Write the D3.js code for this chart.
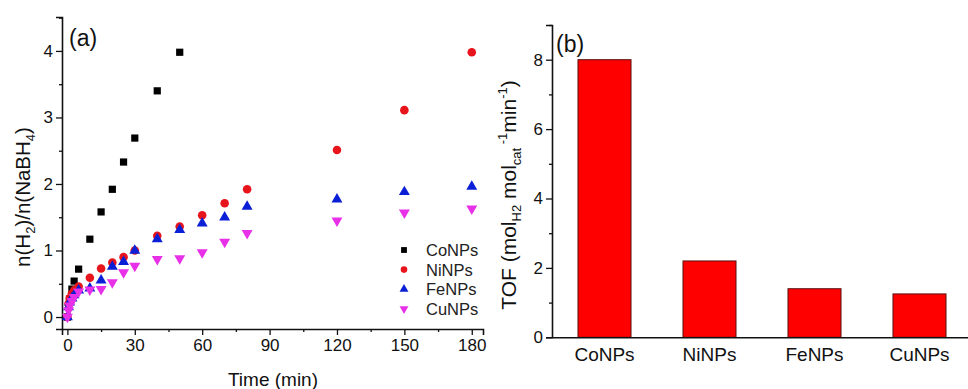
<!DOCTYPE html>
<html>
<head>
<meta charset="utf-8">
<script src="https://cdn.jsdelivr.net/npm/d3@7"></script>
<style>
  html, body { margin: 0; padding: 0; background: #fff; }
  svg { display: block; font-family: Arial, "Liberation Sans", sans-serif; }
</style>
</head>
<body>
<svg id="chart" width="968" height="389"></svg>
<script>
// ---- panel (a): H2 evolved per NaBH4 over time ----
const timeCo = [0, 1, 2, 3, 5, 10, 15, 20, 25, 30, 40, 50];
const valCo  = [0, 0.27, 0.42, 0.54, 0.72, 1.17, 1.58, 1.92, 2.33, 2.69, 3.40, 3.98];

const timeOthers = [0, 0.5, 1, 2, 3, 5, 10, 15, 20, 25, 30, 40, 50, 60, 70, 80, 120, 150, 180];
const valNi = [0, 0.20, 0.28, 0.35, 0.40, 0.46, 0.59, 0.73, 0.82, 0.90, 1.00, 1.22, 1.36, 1.53, 1.71, 1.92, 2.51, 3.11, 3.98];
const valFe = [0, 0.15, 0.22, 0.28, 0.33, 0.40, 0.43, 0.55, 0.76, 0.83, 1.00, 1.17, 1.31, 1.41, 1.50, 1.66, 1.77, 1.88, 1.96];
const valCu = [0, 0.10, 0.17, 0.24, 0.30, 0.38, 0.41, 0.42, 0.52, 0.67, 0.77, 0.87, 0.88, 0.97, 1.13, 1.26, 1.45, 1.57, 1.63];

const seriesNames  = ["CoNPs", "NiNPs", "FeNPs", "CuNPs"];
const seriesColors = ["#000000", "#e8141c", "#0a1fd6", "#e830e8"];
const seriesShapes = [d3.symbolSquare, d3.symbolCircle, d3.symbolTriangle, "down"];

const xTicksA = [0, 30, 60, 90, 120, 150, 180];
const yTicksA = [0, 1, 2, 3, 4];

// ---- panel (b): turnover frequency ----
const catalysts = ["CoNPs", "NiNPs", "FeNPs", "CuNPs"];
const tofValues = [8.0, 2.2, 1.4, 1.25];
const yTicksB = [0, 2, 4, 6, 8];

const svg = d3.select("#chart");

// scales for (a)
const xA = d3.scaleLinear().domain([-2.4, 185]).range([62, 483]);
const yA = d3.scaleLinear().domain([-0.18, 4.51]).range([329, 17]);

const gA = svg.append("g");

// y axis (a)
const yAxisA = d3.axisLeft(yA).tickValues(yTicksA).tickFormat(d3.format("d")).tickSize(6).tickPadding(3);
const yAxisAMinor = d3.axisLeft(yA).tickValues([0.5, 1.5, 2.5, 3.5, 4.5]).tickFormat("").tickSize(3);
gA.append("g").attr("transform", "translate(62,0)").call(yAxisAMinor).call(g => g.select(".domain").remove());
gA.append("g").attr("class", "ax").attr("transform", "translate(62,0)").call(yAxisA);

// x axis (a)
const xAxisA = d3.axisBottom(xA).tickValues(xTicksA).tickSize(6).tickPadding(4);
const xAxisAMinor = d3.axisBottom(xA).tickValues([15, 45, 75, 105, 135, 165]).tickFormat("").tickSize(3);
gA.append("g").attr("transform", "translate(0,329)").call(xAxisAMinor).call(g => g.select(".domain").remove());
gA.append("g").attr("class", "ax").attr("transform", "translate(0,329)").call(xAxisA);

// marker path generator
function markerPath(shape, size) {
  if (shape === "down") {
    return d3.symbol().type(d3.symbolTriangle).size(size)();
  }
  return d3.symbol().type(shape).size(size)();
}
function markerTransform(shape, x, y) {
  return shape === "down" ? `translate(${x},${y}) rotate(180)` : `translate(${x},${y})`;
}
const markerSizes = [52, 58, 52, 52];

const seriesData = [
  timeCo.map((t, i) => ({ t, v: valCo[i] })),
  timeOthers.map((t, i) => ({ t, v: valNi[i] })),
  timeOthers.map((t, i) => ({ t, v: valFe[i] })),
  timeOthers.map((t, i) => ({ t, v: valCu[i] }))
];

// draw Co first, then Ni, Fe, Cu on top
seriesData.forEach((data, si) => {
  gA.append("g").selectAll("path").data(data).join("path")
    .attr("d", markerPath(seriesShapes[si], markerSizes[si]))
    .attr("transform", d => markerTransform(seriesShapes[si], xA(d.t), yA(d.v)))
    .attr("fill", seriesColors[si]);
});

// legend (a)
const legend = gA.append("g");
seriesNames.forEach((name, i) => {
  const y = 250 + i * 19.6;
  legend.append("path")
    .attr("d", markerPath(seriesShapes[i], 34))
    .attr("transform", markerTransform(seriesShapes[i], 404, y))
    .attr("fill", seriesColors[i]);
  legend.append("text").attr("x", 426).attr("y", y + 6)
    .attr("font-size", 16.5).attr("fill", "#222").text(name);
});

// labels (a)
gA.append("text").attr("x", 69).attr("y", 46).attr("font-size", 23).attr("fill", "#111").text("(a)");
gA.append("text").attr("x", 273).attr("y", 386).attr("text-anchor", "middle")
  .attr("font-size", 19).attr("fill", "#111").text("Time (min)");
const yLabA = gA.append("text")
  .attr("transform", "translate(30,197) rotate(-90)")
  .attr("text-anchor", "middle").attr("font-size", 20.5).attr("fill", "#111");
yLabA.append("tspan").text("n(H");
yLabA.append("tspan").attr("font-size", 13).attr("dy", 5).text("2");
yLabA.append("tspan").attr("dy", -5).text(")/n(NaBH");
yLabA.append("tspan").attr("font-size", 13).attr("dy", 5).text("4");
yLabA.append("tspan").attr("dy", -5).text(")");

// ---- panel (b) ----
const xB = d3.scaleBand().domain(catalysts).range([552, 972])
  .paddingInner(0.495).paddingOuter(0.2475);
const yB = d3.scaleLinear().domain([0, 9]).range([337.3, 25]);

const gB = svg.append("g");

gB.append("g").selectAll("rect").data(catalysts).join("rect")
  .attr("x", d => xB(d))
  .attr("width", xB.bandwidth())
  .attr("y", (d, i) => yB(tofValues[i]))
  .attr("height", (d, i) => yB(0) - yB(tofValues[i]))
  .attr("fill", "#ff0000")
  .attr("stroke", "#5a1010")
  .attr("stroke-width", 1);

const yAxisB = d3.axisLeft(yB).tickValues(yTicksB).tickFormat(d3.format("d")).tickSize(6).tickPadding(3);
const yAxisBMinor = d3.axisLeft(yB).tickValues([1, 3, 5, 7, 9]).tickFormat("").tickSize(3);
gB.append("g").attr("transform", "translate(552,0)").call(yAxisBMinor).call(g => g.select(".domain").remove());
gB.append("g").attr("class", "ax").attr("transform", "translate(552,0)").call(yAxisB);

const xAxisB = d3.axisBottom(xB).tickSize(0).tickPadding(10);
gB.append("g").attr("class", "ax cat").attr("transform", "translate(0,337.3)").call(xAxisB)
  .call(g => g.select(".domain").attr("d", "M552.5,0.5H968"));

gB.append("text").attr("x", 556).attr("y", 52).attr("font-size", 23).attr("fill", "#111").text("(b)");

const yLabB = gB.append("text")
  .attr("transform", "translate(516,195) rotate(-90)")
  .attr("text-anchor", "middle").attr("font-size", 21).attr("fill", "#111");
yLabB.append("tspan").text("TOF (mol");
yLabB.append("tspan").attr("font-size", 13).attr("dy", 5).text("H2");
yLabB.append("tspan").attr("dy", -5).text(" mol");
yLabB.append("tspan").attr("font-size", 13).attr("dy", 5).text("cat");
yLabB.append("tspan").attr("font-size", 13).attr("dy", -14).text(" -1");
yLabB.append("tspan").attr("dy", 9).text("min");
yLabB.append("tspan").attr("font-size", 13).attr("dy", -9).text("-1");
yLabB.append("tspan").attr("dy", 9).text(")");

// shared axis styling
svg.selectAll(".domain").attr("stroke", "#111").attr("stroke-width", 1.6);
svg.selectAll(".tick line").attr("stroke", "#111").attr("stroke-width", 1.3);
svg.selectAll(".tick text").attr("fill", "#111").attr("font-size", 17).attr("font-family", "Arial, 'Liberation Sans', sans-serif");
svg.selectAll(".cat .tick text").attr("font-size", 19);
</script>
</body>
</html>
